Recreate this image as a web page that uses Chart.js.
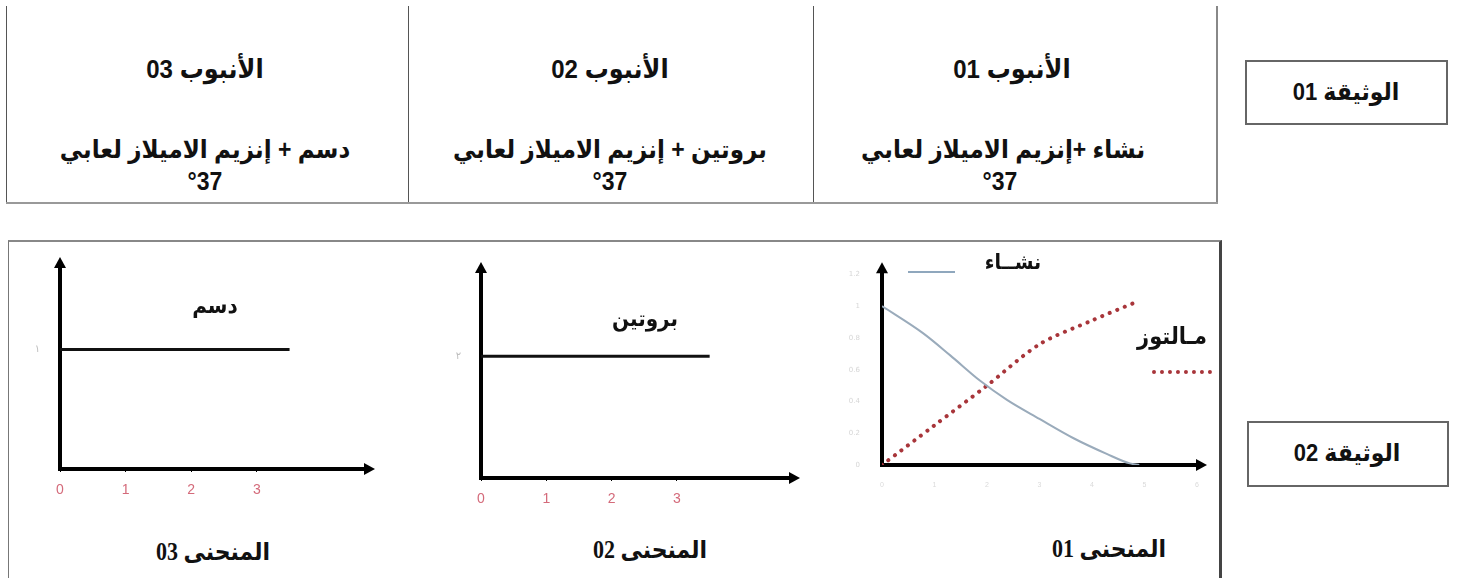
<!DOCTYPE html>
<html lang="ar">
<head>
<meta charset="utf-8">
<script src="https://cdn.jsdelivr.net/npm/chart.js@4.4.1/dist/chart.umd.min.js"></script>
<style>
  html, body { margin:0; padding:0; background:#fff; width:1457px; height:578px; overflow:hidden; }
  .abs { position:absolute; }
  .t { position:absolute; font-family:"Liberation Sans","DejaVu Sans",sans-serif; font-weight:bold; color:#111; white-space:nowrap; transform:translate(-50%,-50%) scaleY(1.1); direction:rtl; line-height:1; }
  .vl { position:absolute; width:0; border-left:1.5px solid #555; }
  .cap { font-family:"Liberation Serif","DejaVu Sans",serif; font-size:22px; }
  canvas { position:absolute; }
</style>
</head>
<body>
<!-- Document 01 table -->
<div class="vl" style="left:6px;top:6px;height:197px;"></div>
<div class="vl" style="left:408px;top:6px;height:197px;"></div>
<div class="vl" style="left:813px;top:6px;height:197px;"></div>
<div class="vl" style="left:1216px;top:6px;height:197px;border-left-width:2px;border-color:#888;"></div>
<div class="abs" style="left:6px;top:202px;width:1212px;height:0;border-top:2px solid #999;"></div>

<div class="t" style="left:205px;top:69px;font-size:24px;">الأنبوب 03</div>
<div class="t" style="left:205px;top:150px;font-size:23px;">دسم + إنزيم الاميلاز لعابي</div>
<div class="t" style="left:205px;top:182px;font-size:23px;direction:ltr;">°37</div>

<div class="t" style="left:610px;top:69px;font-size:24px;">الأنبوب 02</div>
<div class="t" style="left:610px;top:150px;font-size:23px;">بروتين +  إنزيم الاميلاز لعابي</div>
<div class="t" style="left:610px;top:182px;font-size:23px;direction:ltr;">°37</div>

<div class="t" style="left:1012px;top:69px;font-size:24px;">الأنبوب 01</div>
<div class="t" style="left:1003px;top:150px;font-size:23px;">نشاء +إنزيم الاميلاز لعابي</div>
<div class="t" style="left:1000px;top:182px;font-size:23px;direction:ltr;">°37</div>

<div class="abs" style="left:1245px;top:60px;width:199px;height:61px;border:2px solid #666;"></div>
<div class="t" style="left:1346px;top:92px;font-size:22px;">الوثيقة 01</div>
<div class="abs" style="left:1247px;top:421px;width:198px;height:62px;border:2px solid #666;"></div>
<div class="t" style="left:1347px;top:453px;font-size:22px;">الوثيقة 02</div>

<!-- Document 02 frame -->
<div class="abs" style="left:8px;top:240px;width:1210px;height:360px;border-left:1.5px solid #777;border-top:2px solid #888;border-right:3px solid #444;"></div>

<canvas id="c3" width="355" height="270" style="left:20px;top:240px;"></canvas>
<canvas id="c2" width="360" height="275" style="left:440px;top:245px;"></canvas>
<canvas id="c1" width="385" height="270" style="left:830px;top:245px;"></canvas>

<div class="t" style="left:215px;top:305px;font-size:20px;">دسم</div>
<div class="t" style="left:645px;top:318px;font-size:20px;">بروتين</div>
<div class="t" style="left:1013px;top:262px;font-size:19px;">نشــاء</div>
<div class="abs" style="left:908px;top:271px;width:47px;height:0;border-top:2px solid #8fa7bd;"></div>
<div class="t" style="left:1172px;top:336px;font-size:21px;">مـالتوز</div>
<div class="abs" style="left:1152px;top:370px;width:60px;height:0;border-top:4px dotted #a8353a;"></div>

<div class="t cap" style="left:213px;top:552px;">المنحنى 03</div>
<div class="t cap" style="left:650px;top:550px;">المنحنى 02</div>
<div class="t cap" style="left:1109px;top:549px;">المنحنى 01</div>

<script>
// ---- data ----
const xTicks23 = [0, 1, 2, 3];
const lipidX = [0, 3.5];
const lipidY = [1, 1];
const lipidYTicks = [1];
const lipidYTickLabels = ['١'];
const proteinX = [0, 3.5];
const proteinY = [2, 2];
const proteinYTicks = [2];
const proteinYTickLabels = ['٢'];
const starchX = [0, 0.78, 1.3, 1.87, 2.38, 3.0, 3.64, 4.28, 4.72, 4.9];
const starchY = [1.0, 0.83, 0.69, 0.53, 0.41, 0.29, 0.17, 0.07, 0.01, 0];
const maltoseX = [0, 1, 2, 3, 4, 4.87];
const maltoseY = [0, 0.25, 0.5, 0.76, 0.91, 1.03];
const xTicks1 = [0, 1, 2, 3, 4, 5, 6];
const yTicks1 = [0, 0.2, 0.4, 0.6, 0.8, 1.0, 1.2];

const pts = (xs, ys) => xs.map((x, i) => ({x, y: ys[i]}));

const arrows = {
  id: 'arrows',
  afterDraw(chart) {
    const {ctx, chartArea: a} = chart;
    ctx.save();
    ctx.fillStyle = '#000';
    ctx.beginPath();
    ctx.moveTo(a.left, a.top - 9);
    ctx.lineTo(a.left - 6, a.top + 2);
    ctx.lineTo(a.left + 6, a.top + 2);
    ctx.closePath(); ctx.fill();
    ctx.beginPath();
    ctx.moveTo(a.right + 10, a.bottom);
    ctx.lineTo(a.right - 1, a.bottom - 6);
    ctx.lineTo(a.right - 1, a.bottom + 6);
    ctx.closePath(); ctx.fill();
    ctx.restore();
  }
};

function makeScales(o) {
  return {
    x: {
      type: 'linear', min: 0, max: o.xmax,
      afterFit(s) { s.height = o.xh; },
      afterBuildTicks(s) { s.ticks = o.xt.map(v => ({value: v})); },
      grid: { display: true, drawOnChartArea: false, drawTicks: o.xTickMarks, tickLength: 3, color: '#000' },
      border: { display: true, color: '#000', width: 4 },
      ticks: { color: o.xc, font: {size: o.xfs, family: 'Liberation Sans'}, padding: o.xpad, maxRotation: 0,
               callback: (v) => o.xl ? o.xl[o.xt.indexOf(v)] : String(v) }
    },
    y: {
      type: 'linear', min: 0, max: o.ymax,
      afterFit(s) { s.width = o.yw; },
      afterBuildTicks(s) { s.ticks = o.yt.map(v => ({value: v})); },
      grid: { display: true, drawOnChartArea: false, drawTicks: false, color: '#000' },
      border: { display: true, color: '#000', width: 4 },
      ticks: { color: o.yc, font: {size: o.yfs, family: 'DejaVu Sans'}, padding: o.ypad,
               callback: (v) => o.yl ? o.yl[o.yt.indexOf(v)] : String(v) }
    }
  };
}

const base = {
  responsive: false, animation: false, devicePixelRatio: 1,
  plugins: { legend: {display: false}, tooltip: {enabled: false} },
  elements: { point: { radius: 0 } }
};

// Chart 3 (lipid)
new Chart(document.getElementById('c3'), {
  type: 'line',
  data: { datasets: [{ data: pts(lipidX, lipidY), borderColor: '#111', borderWidth: 3, tension: 0 }] },
  options: Object.assign({}, base, {
    layout: { padding: { top: 16, right: 10, left: 0, bottom: 0 } },
    scales: makeScales({ xmax: 4.65, xh: 41, xt: xTicks23, xc: '#d46a7a', xfs: 14, xpad: 10, xTickMarks: true,
                         ymax: 1.7, yw: 40, yt: lipidYTicks, yl: lipidYTickLabels, yc: '#bdbdbd', yfs: 10, ypad: 20 })
  }),
  plugins: [arrows]
});

// Chart 2 (protein)
new Chart(document.getElementById('c2'), {
  type: 'line',
  data: { datasets: [{ data: pts(proteinX, proteinY), borderColor: '#111', borderWidth: 3, tension: 0 }] },
  options: Object.assign({}, base, {
    layout: { padding: { top: 17, right: 10, left: 0, bottom: 0 } },
    scales: makeScales({ xmax: 4.73, xh: 42, xt: xTicks23, xc: '#d46a7a', xfs: 14, xpad: 10, xTickMarks: true,
                         ymax: 3.4, yw: 41, yt: proteinYTicks, yl: proteinYTickLabels, yc: '#bdbdbd', yfs: 10, ypad: 20 })
  }),
  plugins: [arrows]
});

// Chart 1 (starch / maltose)
new Chart(document.getElementById('c1'), {
  type: 'line',
  data: { datasets: [
    { label: 'نشاء', data: pts(starchX, starchY), borderColor: '#9aabbb', borderWidth: 2, cubicInterpolationMode: 'monotone' },
    { label: 'مالتوز', data: pts(maltoseX, maltoseY), borderColor: '#a8353a', borderWidth: 4, borderDash: [0.1, 8], borderCapStyle: 'round', tension: 0.3 }
  ] },
  options: Object.assign({}, base, {
    layout: { padding: { top: 17, right: 18, left: 0, bottom: 0 } },
    scales: makeScales({ xmax: 6, xh: 50, xt: xTicks1, xc: '#dadada', xfs: 7, xpad: 16, xTickMarks: false,
                         ymax: 1.22, yw: 52, yt: yTicks1, yc: '#d6d6d6', yfs: 7, ypad: 22 })
  }),
  plugins: [arrows]
});
</script>
</body>
</html>
